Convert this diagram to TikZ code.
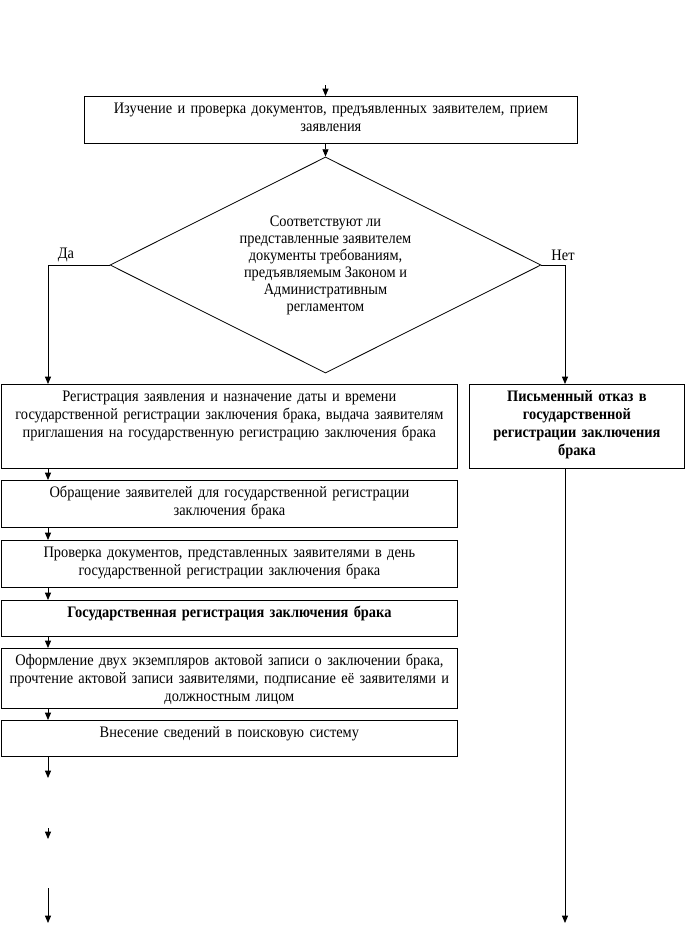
\documentclass[tikz,border=0pt]{standalone}
\usepackage{fontspec}
\setmainfont[FakeStretch=0.9]{Liberation Serif}
\usepackage{tikz}
\usetikzlibrary{positioning,shapes.geometric,arrows.meta}

\tikzset{
  stepbox/.style={draw, line width=0.6pt, anchor=north west, align=center,
    inner xsep=3pt, inner ysep=4pt, text height=8.5pt,
    font=\fontsize{12}{13.5}\selectfont},
  arr/.style={line width=0.6pt, -{Triangle[width=4.5pt,length=5.5pt]}},
  lbl/.style={font=\fontsize{12}{13.5}\selectfont, inner sep=0pt}
}

\begin{document}
\begin{tikzpicture}[x=0.75pt,y=-0.75pt]
  \useasboundingbox (0,0) rectangle (686,925);
  % columns of the two branches
  \coordinate (L) at (48,0);
  \coordinate (R) at (565,0);

  \node[stepbox, text width=363.75pt, text depth=18.75pt] (izu) at (84,96)
    {Изучение и проверка документов, предъявленных заявителем, прием\\заявления};
  \node[draw, line width=0.6pt, diamond, aspect=2, inner sep=0pt,
        minimum width=323.25pt, minimum height=162pt, align=center,
        font=\fontsize{12}{12.75}\selectfont] (q) at (325.5,265)
    {Соответствуют ли\\представленные заявителем\\документы требованиям,\\предъявляемым Законом и\\Административным\\регламентом};
  \node[lbl] (da) at (66,255) {Да};
  \node[lbl] (net) at (563,255) {Нет};

  % left branch
  \node[stepbox, text width=336pt, text depth=46.5pt] (reg) at (1,384)
    {Регистрация заявления и назначение даты и времени\\государственной регистрации заключения брака, выдача заявителям\\приглашения на государственную регистрацию заключения брака};
  \node[stepbox, text width=336pt, text depth=18.75pt] (obr) at (1,480)
    {Обращение заявителей для государственной регистрации\\заключения брака};
  \node[stepbox, text width=336pt, text depth=18.75pt] (prov) at (1,540)
    {Проверка документов, представленных заявителями в день\\государственной регистрации заключения брака};
  \node[stepbox, text width=336pt, text depth=10.5pt, font=\fontsize{12}{13.5}\selectfont\bfseries] (greg) at (1,600)
    {Государственная регистрация заключения брака};
  \node[stepbox, text width=336pt, text depth=28.5pt] (ofo) at (1,648)
    {Оформление двух экземпляров актовой записи о заключении брака,\\прочтение актовой записи заявителями, подписание её заявителями и\\должностным лицом};
  \node[stepbox, text width=336pt, text depth=10.5pt] (vns) at (1,720)
    {Внесение сведений в поисковую систему};

  % right branch
  \node[stepbox, text width=155.25pt, text depth=46.5pt, font=\fontsize{12}{13.5}\selectfont\bfseries] (otk) at (469,384)
    {Письменный отказ в\\государственной\\регистрации заключения\\брака};

  % connectors
  \coordinate (in) at (325.5,85);
  \draw[arr] (in) -- (in |- izu.north);
  \draw[arr] (q.north |- izu.south) -- (q.north);
  \draw[arr] (q.west) -| (L |- reg.north);
  \draw[arr] (q.east) -| (R |- otk.north);
  \foreach \a/\b in {reg/obr,obr/prov,prov/greg,greg/ofo,ofo/vns}
    \draw[arr] (L |- \a.south) -- (L |- \b.north);

  \coordinate (t1) at (48,778);
  \coordinate (t2a) at (48,828);
  \coordinate (t2b) at (48,839);
  \coordinate (t3a) at (48,888);
  \coordinate (t3b) at (48,923);
  \coordinate (t4) at (565,923);
  \draw[arr] (L |- vns.south) -- (t1);
  \draw[arr] (t2a) -- (t2b);
  \draw[arr] (t3a) -- (t3b);
  \draw[arr] (R |- otk.south) -- (t4);
\end{tikzpicture}
\end{document}
